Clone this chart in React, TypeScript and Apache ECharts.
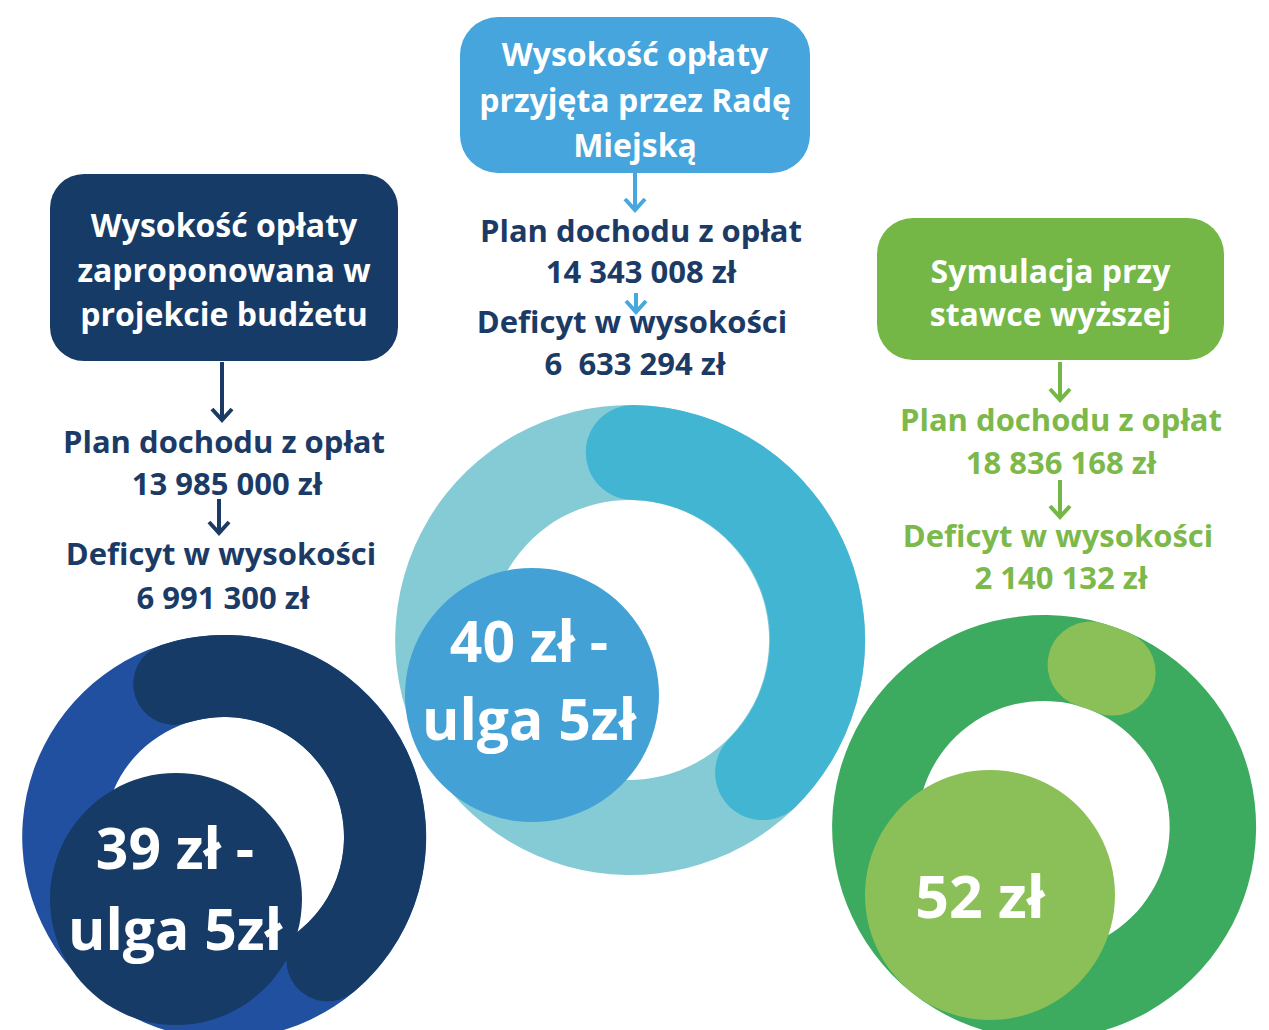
import React, { useEffect, useRef } from "react";
import * as echarts from "echarts";

// ---- data ----
const boxTitles = [
  ["Wysokość opłaty", "zaproponowana w", "projekcie budżetu"],
  ["Wysokość opłaty", "przyjęta przez Radę", "Miejską"],
  ["Symulacja przy", "stawce wyższej"],
];
const planCaption = "Plan dochodu z opłat";
const deficitCaption = "Deficyt w wysokości";
const planLabels = ["13 985 000 zł", "14 343 008 zł", "18 836 168 zł"];
const deficitLabels = ["6 991 300 zł", "6  633 294 zł", "2 140 132 zł"];
const feeLabels = [["39 zł -", "ulga 5zł"], ["40 zł -", "ulga 5zł"], ["52 zł"]];
// progress arcs (degrees, clockwise from top)
const arcStartDeg = [-18, 1, 16];
const arcSpanDeg = [158, 134, 8];

// ---- styles / layout ----
const ringBg = ["#2150a0", "#85cbd6", "#3dab5f"];
const ringFg = ["#163b66", "#42b5d3", "#8bbf57"];
const feeColor = ["#163b66", "#44a1d6", "#8bbf57"];
const boxColor = ["#163b66", "#45a5dc", "#74b747"];
const textColor = ["#1b3b66", "#1b3b66", "#7cb94a"];
const arrowColor = ["#1b3b66", "#46a8dc", "#74b747"];

const ringCenter = [[224, 837], [630, 640], [1044, 827]];
const ringOuter = [202, 235, 212];
const ringWidth = [82, 95, 86];
const feeCenter = [[176, 899], [532, 695], [990, 895]];
const feeRadius = [126, 127, 125];
const feeTextX = [175, 529, 980];
const feeTextY = [[847, 928], [640, 718], [895]];
const feeFont = [57, 57, 59];

const boxRect = [
  { x: 50, y: 174, w: 348, h: 187, r: 34 },
  { x: 460, y: 17, w: 350, h: 156, r: 38 },
  { x: 877, y: 218, w: 347, h: 142, r: 36 },
];
const boxLineY = [[224, 269, 313], [53, 99, 144], [270, 313]];
const bodyX = [[224, 227, 221, 223], [641, 641, 632, 635], [1061, 1061, 1058, 1061]];
const bodyY = [[441, 483, 553, 597], [230, 271, 321, 363], [419, 462, 535, 577]];
const arrows = [
  [[222, 362, 420], [219, 499, 533]],
  [[635, 173, 210], [636, 293, 312]],
  [[1060, 362, 400], [1060, 480, 517]],
];

const FONT = "'Open Sans', 'Noto Sans', sans-serif";

export default function App() {
  const ref = useRef<HTMLDivElement>(null);
  useEffect(() => {
    document.body.style.margin = "0";
    const chart = echarts.init(ref.current!, undefined, { renderer: "svg" });
    const series: any[] = [];
    for (let i = 0; i < 3; i++) {
      const sa = 90 - arcStartDeg[i];
      series.push({
        type: "gauge",
        center: ringCenter[i],
        radius: ringOuter[i],
        startAngle: sa,
        endAngle: sa - 360,
        clockwise: true,
        min: 0,
        max: 360,
        z: 2,
        silent: true,
        axisLine: { show: true, roundCap: false, lineStyle: { width: ringWidth[i], color: [[1, ringBg[i]]] } },
        progress: { show: true, width: ringWidth[i], roundCap: true, itemStyle: { color: ringFg[i] } },
        pointer: { show: false },
        anchor: { show: false },
        axisTick: { show: false },
        splitLine: { show: false },
        axisLabel: { show: false },
        title: { show: false },
        detail: { show: false },
        data: [{ value: arcSpanDeg[i] }],
      });
      series.push({
        type: "pie",
        center: feeCenter[i],
        radius: [0, feeRadius[i]],
        z: 3,
        silent: true,
        emphasis: { disabled: true },
        labelLine: { show: false },
        itemStyle: { color: feeColor[i], borderWidth: 0 },
        label: { show: false },
        data: [{ value: 1, name: "fee" + i }],
      });
    }

    const graphic: any[] = [];
    for (let i = 0; i < 3; i++) {
      const b = boxRect[i];
      graphic.push({
        type: "rect",
        shape: { x: b.x, y: b.y, width: b.w, height: b.h, r: b.r },
        style: { fill: boxColor[i] },
        z: 1,
      });
      boxTitles[i].forEach((t, j) => {
        graphic.push({
          type: "text",
          x: b.x + b.w / 2,
          y: boxLineY[i][j],
          style: {
            text: t,
            fill: "#ffffff",
            font: `bold 32px ${FONT}`,
            textAlign: "center",
            textVerticalAlign: "middle",
          },
          z: 2,
        });
      });
      const body = [planCaption, planLabels[i], deficitCaption, deficitLabels[i]];
      body.forEach((t, j) => {
        graphic.push({
          type: "text",
          x: bodyX[i][j],
          y: bodyY[i][j],
          style: {
            text: t,
            fill: textColor[i],
            font: `bold 31px ${FONT}`,
            textAlign: "center",
            textVerticalAlign: "middle",
          },
          z: 2,
        });
      });
      arrows[i].forEach(([x, y1, y2]) => {
        graphic.push({
          type: "polyline",
          shape: { points: [[x, y1], [x, y2]] },
          style: { stroke: arrowColor[i], lineWidth: 4, fill: null },
          z: 3,
        });
        graphic.push({
          type: "polyline",
          shape: { points: [[x - 10, y2 - 11], [x, y2], [x + 10, y2 - 11]] },
          style: { stroke: arrowColor[i], lineWidth: 4, fill: null, lineJoin: "miter" },
          z: 3,
        });
      });
      feeLabels[i].forEach((t, j) => {
        graphic.push({
          type: "text",
          x: feeTextX[i],
          y: feeTextY[i][j],
          style: {
            text: t,
            fill: "#ffffff",
            font: `bold ${feeFont[i]}px ${FONT}`,
            textAlign: "center",
            textVerticalAlign: "middle",
          },
          z: 10,
        });
      });
    }

    chart.setOption({
      animation: false,
      backgroundColor: "#ffffff",
      series,
      graphic,
    });
    return () => chart.dispose();
  }, []);
  return <div ref={ref} style={{ width: 1269, height: 1030 }} />;
}
